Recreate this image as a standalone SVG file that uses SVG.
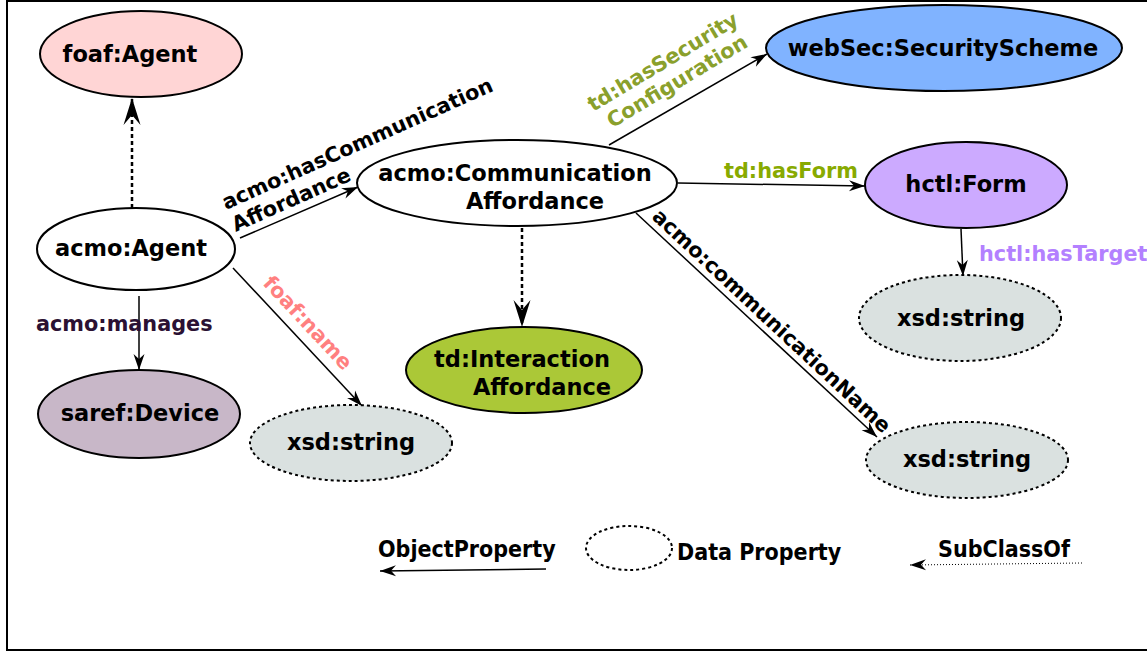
<svg xmlns="http://www.w3.org/2000/svg" width="1147" height="652" viewBox="0 0 1147 652">
  <style>
    .node { stroke: #000; stroke-width: 2; }
    .data { stroke: #000; stroke-width: 2; stroke-dasharray: 3 3; fill: #dae1e0; }
    .nt { font-family: "DejaVu Sans", "Liberation Sans", sans-serif; font-weight: bold; font-size: 22.5px; fill: #000; text-anchor: middle; }
    .lb { font-family: "DejaVu Sans", "Liberation Sans", sans-serif; font-weight: bold; font-size: 20.8px; }
    .lg { font-family: "DejaVu Sans Condensed", "DejaVu Sans", sans-serif; font-stretch: condensed; font-weight: bold; font-size: 23px; fill: #000; }
    .obj { stroke: #000; stroke-width: 1.5; fill: none; marker-end: url(#arr); }
    .sub { stroke: #000; stroke-width: 2.5; stroke-dasharray: 4 3; fill: none; marker-end: url(#big); }
  </style>
  <defs>
    <marker id="arr" markerUnits="userSpaceOnUse" viewBox="-18 -7 20 14" markerWidth="20" markerHeight="14" refX="0" refY="0" orient="auto">
      <path d="M0,0 L-16,-5.5 L-11,0 L-16,5.5 Z" fill="#000"/>
    </marker>
    <marker id="big" markerUnits="userSpaceOnUse" viewBox="-30 -10 32 20" markerWidth="32" markerHeight="20" refX="0" refY="0" orient="auto">
      <path d="M0,0 L-27,-8.5 L-17,0 L-27,8.5 Z" fill="#000"/>
    </marker>
  </defs>
  <rect x="0" y="0" width="1147" height="652" fill="#fff"/>
  <rect x="7" y="1" width="1150" height="649" fill="none" stroke="#000" stroke-width="2"/>

  <g id="connectors">
    <path class="sub" d="M132,208 L132,98"/>
    <path class="obj" d="M139,296 L139,370"/>
    <path class="obj" d="M233,268 L362,406"/>
    <path class="obj" d="M240,238 L358,187"/>
    <path class="sub" d="M522,228 L522,327"/>
    <path class="obj" d="M609,145 L767,54"/>
    <path class="obj" d="M678,183 L865,186"/>
    <path class="obj" d="M961,229 L963,276"/>
    <path class="obj" d="M636,213 L877,437"/>

    <text class="lb" fill="#2b1133" x="36" y="331">acmo:manages</text>
    <text class="lb" fill="#ff8080" transform="translate(262 284) rotate(47)">foaf:name</text>
    <text class="lb" fill="#000" transform="translate(226 210) rotate(-24)"><tspan x="0" y="0">acmo:hasCommunication</tspan><tspan x="0" y="24">Affordance</tspan></text>
    <text class="lb" fill="#8aa02c" transform="translate(593 112) rotate(-31)"><tspan x="0" y="0">td:hasSecurity</tspan><tspan x="8" y="24">Configuration</tspan></text>
    <text class="lb" fill="#88aa00" x="724" y="178">td:hasForm</text>
    <text class="lb" fill="#b380ff" x="979" y="261">hctl:hasTarget</text>
    <text class="lb" fill="#000" transform="translate(651 218) rotate(43)">acmo:communicationName</text>
  </g>

  <g id="foaf-agent">
    <ellipse class="node" cx="141" cy="54" rx="101" ry="43" fill="#ffd5d5"/>
    <text class="nt" x="130" y="62">foaf:Agent</text>
  </g>
  <g id="acmo-agent">
    <ellipse class="node" cx="136" cy="249" rx="99" ry="41" fill="#fff"/>
    <text class="nt" x="131" y="256">acmo:Agent</text>
  </g>
  <g id="saref-device">
    <ellipse class="node" cx="139" cy="414" rx="101" ry="44" fill="#c8b7c8"/>
    <text class="nt" x="140" y="421">saref:Device</text>
  </g>
  <g id="xsd-string-1">
    <ellipse class="data" cx="351" cy="443" rx="101" ry="38"/>
    <text class="nt" x="351" y="450">xsd:string</text>
  </g>
  <g id="communication-affordance">
    <ellipse class="node" cx="517" cy="183" rx="160" ry="43" fill="#fff"/>
    <text class="nt" x="515" y="181">acmo:Communication</text>
    <text class="nt" x="535" y="209">Affordance</text>
  </g>
  <g id="interaction-affordance">
    <ellipse class="node" cx="524" cy="370" rx="118" ry="43" fill="#abc837"/>
    <text class="nt" x="522" y="367">td:Interaction</text>
    <text class="nt" x="542" y="395">Affordance</text>
  </g>
  <g id="security-scheme">
    <ellipse class="node" cx="944" cy="48" rx="178" ry="43" fill="#80b3ff"/>
    <text class="nt" x="943" y="56">webSec:SecurityScheme</text>
  </g>
  <g id="hctl-form">
    <ellipse class="node" cx="966" cy="185" rx="101" ry="43" fill="#ccaaff"/>
    <text class="nt" x="966" y="192">hctl:Form</text>
  </g>
  <g id="xsd-string-2">
    <ellipse class="data" cx="960" cy="318" rx="101" ry="43"/>
    <text class="nt" x="961" y="326">xsd:string</text>
  </g>
  <g id="xsd-string-3">
    <ellipse class="data" cx="967" cy="460" rx="101" ry="38"/>
    <text class="nt" x="967" y="467">xsd:string</text>
  </g>

  <g id="legend">
    <text class="lg" x="378" y="557">ObjectProperty</text>
    <path d="M546,569 L380,571" stroke="#000" stroke-width="1.5" fill="none" marker-end="url(#arr)"/>
    <ellipse cx="629" cy="548" rx="43" ry="22" fill="none" stroke="#000" stroke-width="2" stroke-dasharray="3 3"/>
    <text class="lg" x="677" y="560">Data Property</text>
    <text class="lg" x="938" y="557">SubClassOf</text>
    <path d="M1082,563 L910,565" stroke="#000" stroke-width="1" stroke-dasharray="1 2" fill="none" marker-end="url(#arr)"/>
  </g>
</svg>
